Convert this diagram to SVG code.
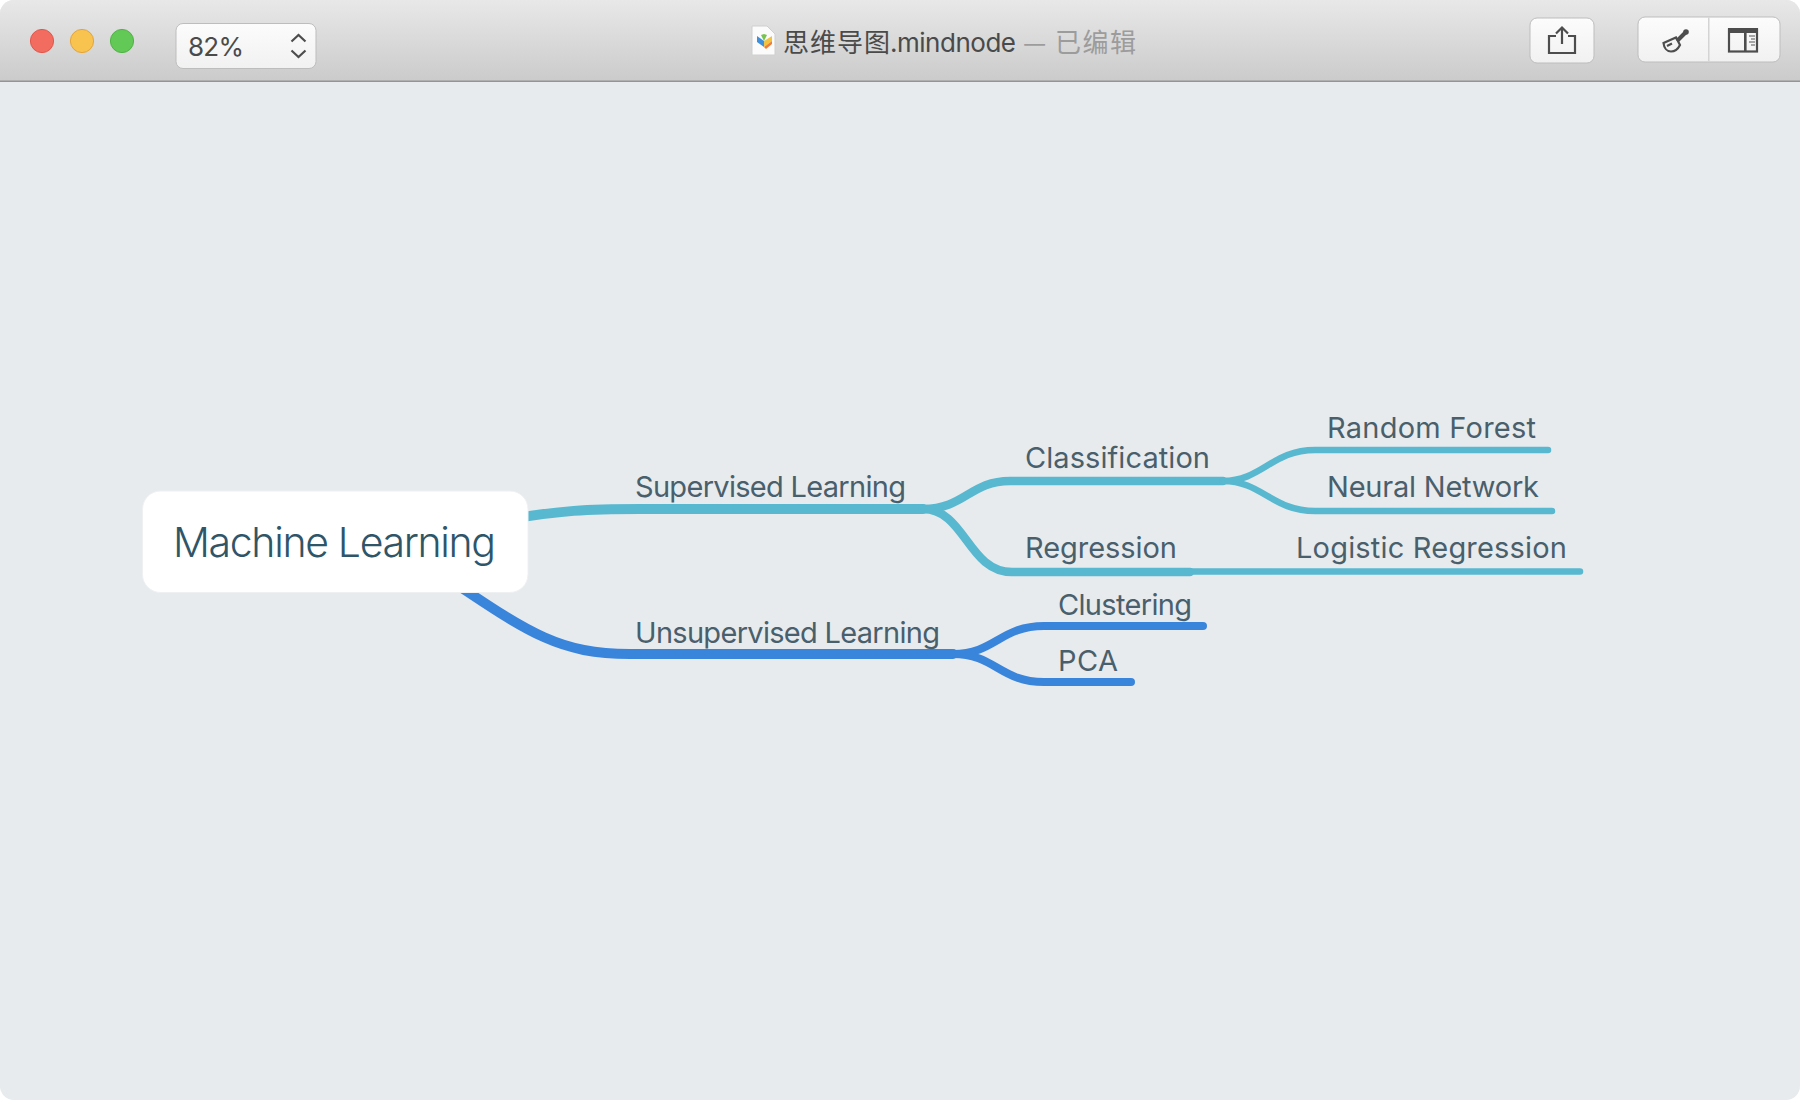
<svg xmlns="http://www.w3.org/2000/svg" width="1800" height="1100" viewBox="0 0 1800 1100">
<defs>
<linearGradient id="bar" x1="0" y1="0" x2="0" y2="1"><stop offset="0" stop-color="#e8e8e8"/><stop offset="1" stop-color="#cbcbcb"/></linearGradient>
<linearGradient id="btn" x1="0" y1="0" x2="0" y2="1"><stop offset="0" stop-color="#fcfcfc"/><stop offset="1" stop-color="#f1f1f1"/></linearGradient>
<clipPath id="win"><rect x="0" y="0" width="1800" height="1100" rx="14"/></clipPath>
</defs>
<style>
.lb{font-family:"Inter","Liberation Sans",sans-serif;font-size:29px;fill:#4a5f6c}
.root{font-family:"Inter","Liberation Sans",sans-serif;font-size:41px;font-weight:300;fill:#2f5568}
.ui{font-family:"Inter","Noto Sans CJK SC",sans-serif;font-size:26px;fill:#4a4a4a}
.cjk{font-family:"Noto Sans CJK SC",sans-serif;font-size:26px}
.c{fill:none;stroke-linecap:round;stroke-linejoin:round}
.t{stroke:#58b8d0}
.b{stroke:#3a85dc}
.btn{fill:url(#btn);stroke:#bdbdbd;stroke-width:1}
.ic{fill:none;stroke:#4d4d4d;stroke-width:2.2}
</style>
<rect width="1800" height="1100" fill="#ffffff"/>
<g clip-path="url(#win)">
<rect id="canvas" width="1800" height="1100" fill="#e7ebee"/>
<g id="titlebar">
<rect width="1800" height="81" fill="url(#bar)"/>
<rect y="80.500" width="1800" height="1.500" fill="#949494"/>
<g id="traffic">
<circle cx="42" cy="41" r="11.600" fill="#f26d60" stroke="#e2554a"/>
<circle cx="82" cy="41" r="11.600" fill="#f9c350" stroke="#e3a43a"/>
<circle cx="122" cy="41" r="11.600" fill="#62c856" stroke="#4fb344"/>
</g>
<g id="zoom">
<rect class="btn" x="176" y="23.500" width="140" height="45" rx="7"/>
<text class="ui" x="188" y="56" textLength="56">82%</text>
<path class="ic" d="M291.500 41.500 298.500 35 305.500 41.500M291.500 50.500 298.500 57 305.500 50.500"/>
</g>
<g id="doc-title">
<path d="M752 26h15l8 8v21h-23z" fill="#fbfbfb" stroke="#cfcfcf"/>
<path d="M764 47 757 42V36l7 5z" fill="#3f90dc"/>
<path d="M764 41 761 35l3-1 3 1z" fill="#79c34f"/>
<path d="M764 41 772 36v5l-8 6z" fill="#f2c341"/>
<path d="M764 47 772 41v3l-6 5z" fill="#ee7d3a"/>
<text class="cjk" x="783" y="52" fill="#4a4a4a" textLength="107">思维导图</text>
<text class="ui" x="890" y="52" textLength="126">.mindnode</text>
<text class="cjk" x="1023" y="52" fill="#9c9c9c" textLength="113">— 已编辑</text>
</g>
<g id="share">
<rect class="btn" x="1530" y="18" width="64" height="45" rx="7"/>
<path class="ic" d="M1556 36h-7v17h26V36h-7M1562 44V28M1556 33.500 1562 27.500 1568 33.500"/>
</g>
<g id="tools">
<rect class="btn" x="1638" y="17" width="142" height="45" rx="7"/>
<rect x="1708" y="17.500" width="1.500" height="44" fill="#d4d4d4"/>
<path d="M1677 41 1686 32" stroke="#4d4d4d" stroke-width="4" fill="none"/>
<circle cx="1686" cy="32" r="2.800" fill="#4d4d4d"/>
<path class="ic" d="M1663.500 43 1676 37.500 1680 45C1678 49 1675 51.500 1671 51.500 1667 51.500 1664 48 1663.500 43zM1667 46 1672 43.500"/>
<rect x="1729" y="29.500" width="28" height="22" class="ic"/>
<rect x="1728" y="28" width="30" height="5" fill="#4d4d4d"/>
<rect x="1744" y="30" width="2.600" height="21" fill="#4d4d4d"/>
<path d="M1749 36h6M1751 39h4M1749 42h6M1751 45h4" stroke="#8a8a8a" stroke-width="1.600" fill="none"/>
</g>
</g>
<g id="connectors">
<path class="c t" stroke-width="10" d="M500 521C560 510 590 509 640 509H923"/>
<path class="c t" stroke-width="8.500" d="M923 509C965 509 970 481 1010 481H1223"/>
<path class="c t" stroke-width="8.500" d="M923 509C965 509 968 572 1012 572H1190"/>
<path class="c t" stroke-width="6.500" d="M1223 481C1262 481 1272 450 1315 450H1548"/>
<path class="c t" stroke-width="6.500" d="M1223 481C1262 481 1272 511 1315 511H1552"/>
<path class="c t" stroke-width="6.500" d="M1190 571.500H1580"/>
<path class="c b" stroke-width="10" d="M435 570C525 630 555 654 630 654H953"/>
<path class="c b" stroke-width="8" d="M953 654C995 654 1000 626 1044 626H1203"/>
<path class="c b" stroke-width="8" d="M953 654C995 654 1000 682 1044 682H1131"/>
</g>
<g id="node-machine-learning">
<rect x="142.500" y="491" width="385.500" height="101.500" rx="18" fill="#ffffff" stroke="#eef0f2"/>
<text class="root" x="173" y="557" textLength="323">Machine Learning</text>
</g>
<g id="node-supervised"><text class="lb" x="635" y="497" textLength="271">Supervised Learning</text></g>
<g id="node-unsupervised"><text class="lb" x="635" y="643" textLength="305">Unsupervised Learning</text></g>
<g id="node-classification"><text class="lb" x="1025" y="468" textLength="185">Classification</text></g>
<g id="node-regression"><text class="lb" x="1025" y="558" textLength="152">Regression</text></g>
<g id="node-random-forest"><text class="lb" x="1327" y="438" textLength="209">Random Forest</text></g>
<g id="node-neural-network"><text class="lb" x="1327" y="497" textLength="212">Neural Network</text></g>
<g id="node-logistic-regression"><text class="lb" x="1296" y="558" textLength="271">Logistic Regression</text></g>
<g id="node-clustering"><text class="lb" x="1058" y="615" textLength="134">Clustering</text></g>
<g id="node-pca"><text class="lb" x="1058" y="671" textLength="60">PCA</text></g>
</g>
</svg>
